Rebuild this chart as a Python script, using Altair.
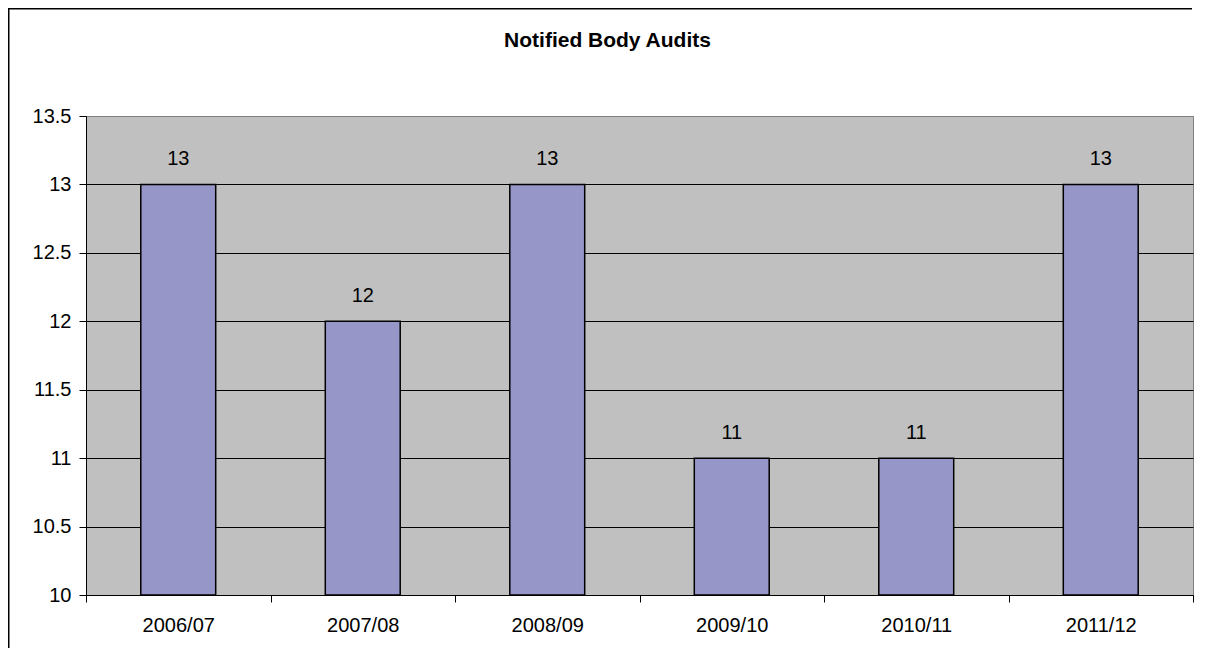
import altair as alt
import pandas as pd

years = ["2006/07", "2007/08", "2008/09", "2009/10", "2010/11", "2011/12"]
audits = [13, 12, 13, 11, 11, 13]
y_ticks = [10, 10.5, 11, 11.5, 12, 12.5, 13, 13.5]
chart_title = "Notified Body Audits"

FONT = "Liberation Sans"

df = pd.DataFrame({"year": years, "audits": audits, "base": [10] * len(years)})

x_enc = alt.X("year:N", sort=years, title=None,
              scale=alt.Scale(paddingInner=0, paddingOuter=0),
              axis=alt.Axis(labelAngle=0, labelFontSize=20, labelFont=FONT, labelColor="black",
                            tickBand="extent", tickSize=7, tickColor="black",
                            domainColor="black", domainWidth=1, labelPadding=13, grid=False))
y_scale = alt.Scale(domain=[10, 13.5], zero=False, nice=False)

bars = alt.Chart(df).mark_bar(
    color="#9696C8", stroke="black", strokeWidth=1.5,
    width=alt.RelativeBandSize(0.406)
).encode(
    x=x_enc,
    y=alt.Y("audits:Q", scale=y_scale, title=None,
            axis=alt.Axis(values=y_ticks, labelExpr="datum.value", labelFontSize=20,
                          labelFont=FONT, labelColor="black", tickSize=7, tickColor="black",
                          domainColor="black", labelPadding=8,
                          gridColor={"condition": {"test": "datum.value === 13.5", "value": "#808080"},
                                     "value": "black"},
                          gridWidth=1, grid=True)),
    y2="base:Q",
)

labels = alt.Chart(df).mark_text(
    fontSize=20, font=FONT, color="black", baseline="alphabetic", dy=-19.5
).encode(
    x=alt.X("year:N", sort=years),
    y=alt.Y("audits:Q", scale=y_scale),
    text=alt.Text("audits:Q"),
)

one = pd.DataFrame({"f": [0]})
frame_left = alt.Chart(one).mark_rule(color="black", strokeWidth=1.5, strokeCap="butt").encode(
    x=alt.value(-77.25), x2=alt.value(-77.25), y=alt.value(-107.25), y2=alt.value(532)
)
frame_top = alt.Chart(one).mark_rule(color="black", strokeWidth=1.5, strokeCap="butt").encode(
    x=alt.value(-78), x2=alt.value(1106), y=alt.value(-107.25), y2=alt.value(-107.25)
)
title = alt.Chart(pd.DataFrame({"t": [chart_title]})).mark_text(
    fontSize=21, fontWeight="bold", font=FONT, color="black", align="center", baseline="alphabetic"
).encode(
    x=alt.value(521.5), y=alt.value(-68.7), text="t:N"
)

chart = alt.layer(frame_left, frame_top, bars, labels, title).properties(
    width=1107, height=479,
    padding={"left": 78, "top": 108, "right": 3, "bottom": 53},
    autosize=alt.AutoSizeParams(type="none"),
    background="white",
).configure_view(
    fill="#C0C0C0", stroke="#808080", strokeWidth=1
)

chart.save("out.html", embed_options={"renderer": "svg", "actions": False})
